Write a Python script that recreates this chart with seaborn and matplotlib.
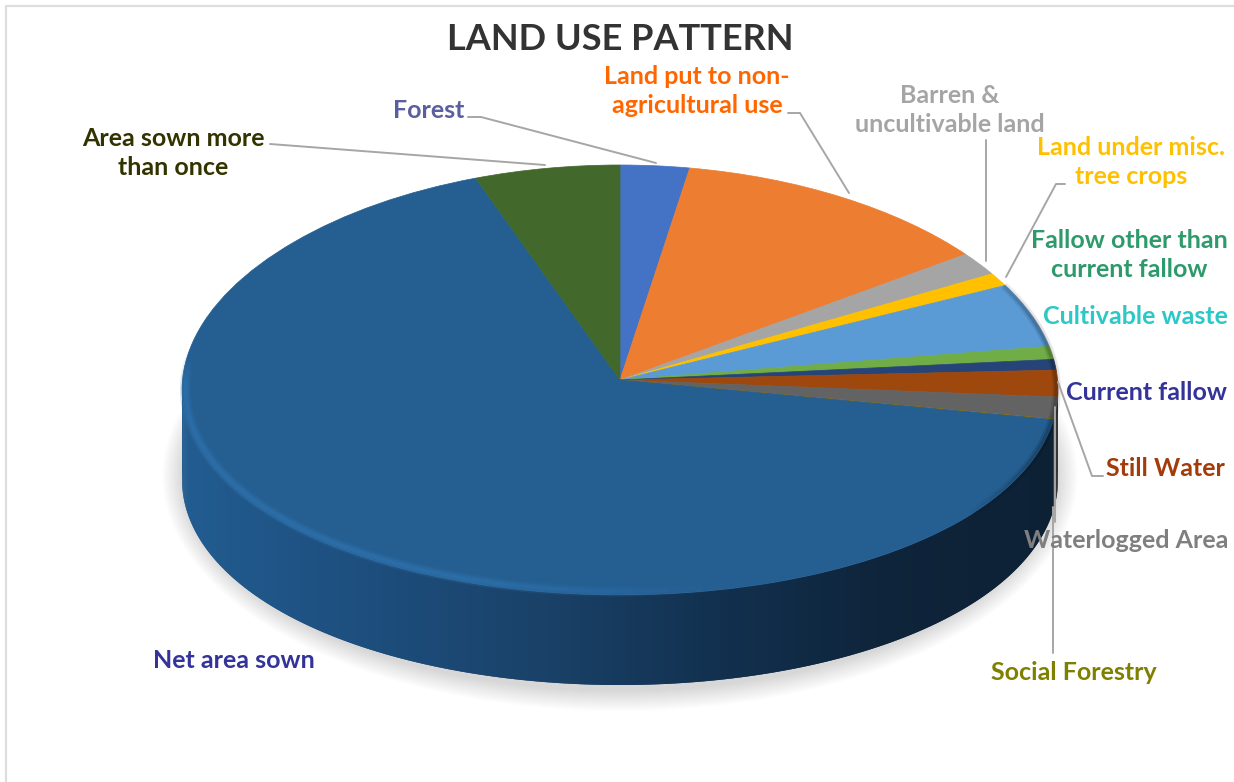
import numpy as np
import matplotlib
matplotlib.use("Agg")
import matplotlib.pyplot as plt
from matplotlib.collections import LineCollection
from matplotlib.colors import to_rgb
from matplotlib.patches import Ellipse
from matplotlib.transforms import Transform
import seaborn as sns

# Land use shares, percent of reporting area, clockwise from twelve o'clock
categories = ["Forest", "Land put to non-agricultural use", "Barren & uncultivable land",
              "Land under misc. tree crops", "Fallow other than current fallow", "Cultivable waste",
              "Current fallow", "Still Water", "Waterlogged Area", "Social Forestry",
              "Net area sown", "Area sown more than once"]
shares = [2.67, 12.4, 1.72, 0.97, 4.75, 0.97, 0.8, 2.0, 1.64, 0.04, 66.5, 5.6]
slice_colors = ["#4472C4", "#ED7D31", "#A5A5A5", "#FFC000", "#5B9BD5", "#70AD47",
                "#264478", "#9E480E", "#636363", "#997300", "#255E91", "#43682B"]

# Wrapped label text, its colour and its centre on the canvas
label_text = ["Forest", "Land put to non-\nagricultural use", "Barren &\nuncultivable land",
              "Land under misc.\ntree crops", "Fallow other than\ncurrent fallow", "Cultivable waste",
              "Current fallow", "Still Water", "Waterlogged Area", "Social Forestry",
              "Net area sown", "Area sown more\nthan once"]
label_colors = ["#5B5F9F", "#FF6600", "#A5A5A5", "#FFC000", "#2E9A6B", "#2CC8C8",
                "#333399", "#A33C0A", "#7F7F7F", "#808000", "#333399", "#333300"]
label_centres = [(429, 111), (697, 91), (950, 110), (1131, 162), (1129, 255), (1135, 317),
                 (1147, 393), (1165, 469), (1126, 541), (1074, 672), (234, 660), (173, 153)]

# Leader polylines, one per label
leaders = [[(468, 117), (481, 117), (656, 163)],
           [(788, 113), (800, 113), (849, 193)],
           [(986, 140), (986, 261)],
           [(1065, 184), (1056, 184), (1006, 277)],
           [(1058, 382), (1092, 476), (1103, 476)],
           [(1055, 407), (1055, 522)],
           [(1053, 507), (1053, 653)],
           [(270, 144), (545, 165)]]

WIDTH, HEIGHT = 1234, 782
CX, CY, RX, RY, DEPTH = 620, 380, 437.5, 215, 90
TILT = 0.045  # the far side of the disc is drawn slightly narrower

sns.set_theme(style="white")
plt.rcParams["font.family"] = ["Lato", "DejaVu Sans"]
plt.rcParams["font.weight"] = "bold"

fig = plt.figure(figsize=(WIDTH / 100, HEIGHT / 100), dpi=100, facecolor="white")
ax = fig.add_axes([0, 0, 1, 1])


def to_data(px, py):
    return (px - CX) / RX, (CY - py) / RY


def narrow(x, y):
    return x * (1 - TILT * y)


class TiltTransform(Transform):
    input_dims = output_dims = 2
    is_separable = False

    def transform_non_affine(self, values):
        out = np.array(values, dtype=float)
        out[:, 0] = narrow(out[:, 0], out[:, 1])
        return out


depth = DEPTH / RY

# Soft drop shadow beneath the disc
for grow in np.linspace(20, 0, 20):
    ax.add_patch(Ellipse((0, -depth - 6 / RY), 2 * (RX + grow) / RX, 2 * (RY + grow) / RY,
                         facecolor="#707070", edgecolor="none", alpha=0.013, zorder=1))

# Rim of the disc, shaded from left to right
edges = np.concatenate([[0], np.cumsum(shares)]) / np.sum(shares) * 2 * np.pi
rim_map = sns.blend_palette(["#225C90", "#1D4E7E", "#1A4269", "#123150", "#0E243A", "#0D2135"],
                            as_cmap=True)
for i, colour in enumerate(slice_colors):
    lo, hi = max(edges[i], np.pi / 2), min(edges[i + 1], 3 * np.pi / 2)
    if hi <= lo:
        continue
    step = np.radians(0.5)
    bounds = np.arange(lo, hi, step)
    for a in bounds:
        # each strip runs under the next one so no seams open between them
        th = np.linspace(a, min(a + 2 * step, hi), 4)
        y = np.cos(th)
        x = narrow(np.sin(th), y)
        px = np.concatenate([x, x[::-1]])
        py = np.concatenate([y, y[::-1] - depth])
        if categories[i] == "Net area sown":
            fill = rim_map((x.mean() + 1) / 2)
        else:
            fill = tuple(np.array(to_rgb(colour)) * 0.45)
        ax.fill(px, py, color=fill, lw=0, zorder=2)

# Top face of the disc
palette = sns.color_palette(slice_colors)
wedges, _ = ax.pie(shares, colors=palette, startangle=90, counterclock=False, radius=1,
                   center=(0, 0), wedgeprops={"linewidth": 0.5, "zorder": 3}, frame=True)
for wedge, colour in zip(wedges, palette):
    wedge.set_edgecolor(colour)
    wedge.set_transform(TiltTransform() + ax.transData)
ax.set_aspect("auto")
ax.set_xlim(to_data(0, 0)[0], to_data(WIDTH, 0)[0])
ax.set_ylim(to_data(0, HEIGHT)[1], to_data(0, 0)[1])
ax.axis("off")


def edge_band(theta, shrink_x, shrink_y):
    y = np.cos(theta) * shrink_y
    x = narrow(np.sin(theta) * shrink_x, y)
    pts = np.column_stack([x, y]).reshape(-1, 1, 2)
    return np.concatenate([pts[:-1], pts[1:]], axis=1)


# Bevel highlight along the front edge of the largest slice
net_index = categories.index("Net area sown")
theta = np.linspace(edges[net_index], edges[net_index + 1], 500)
sx, cy = np.sin(theta[:-1]), np.cos(theta[:-1])
glow = np.clip((0.25 - sx) / 0.6, 0, 1) * np.clip((0.12 - cy) / 0.15, 0, 1)
for lw, strength in [(8, 0.22), (5, 0.4), (2.5, 0.4)]:
    rgba = np.zeros((len(theta) - 1, 4))
    rgba[:, :3] = to_rgb("#2F74B0")
    rgba[:, 3] = glow * strength
    ax.add_collection(LineCollection(edge_band(theta, 0.992, 0.983), colors=rgba,
                                     linewidths=lw, zorder=4, capstyle="butt"))

# Soft shading where the top face rolls over on the right
theta = np.linspace(edges[4], np.radians(135), 300)
sx, cy = np.sin(theta[:-1]), np.cos(theta[:-1])
dim = np.clip((sx - 0.78) / 0.18, 0, 1)
for lw, strength in [(6, 0.1), (3, 0.16)]:
    rgba = np.zeros((len(theta) - 1, 4))
    rgba[:, 3] = dim * strength
    ax.add_collection(LineCollection(edge_band(theta, 0.997, 0.997), colors=rgba,
                                     linewidths=lw, zorder=4, capstyle="butt"))

# Leader lines
for path in leaders:
    xs, ys = zip(*[to_data(*p) for p in path])
    ax.plot(xs, ys, color="#A6A6A6", lw=1.4, zorder=5, solid_joinstyle="round")

# Slice labels
for text, colour, (px, py) in zip(label_text, label_colors, label_centres):
    x, y = to_data(px, py)
    ax.text(x, y, text, color=colour, fontsize=18, fontweight="bold", ha="center", va="center",
            linespacing=1.35, zorder=6)

x, y = to_data(620, 40)
ax.text(x, y, "LAND USE PATTERN", color="#333333", fontsize=26, fontweight="bold",
        ha="center", va="center", zorder=6)

# Thin chart frame along the left and top
xs, ys = zip(*[to_data(*p) for p in [(5.5, HEIGHT), (5.5, 5.5), (WIDTH, 5.5)]])
ax.plot(xs, ys, color="#DDDDDD", lw=1.6, zorder=0)

fig.savefig("out.png", dpi=100)
